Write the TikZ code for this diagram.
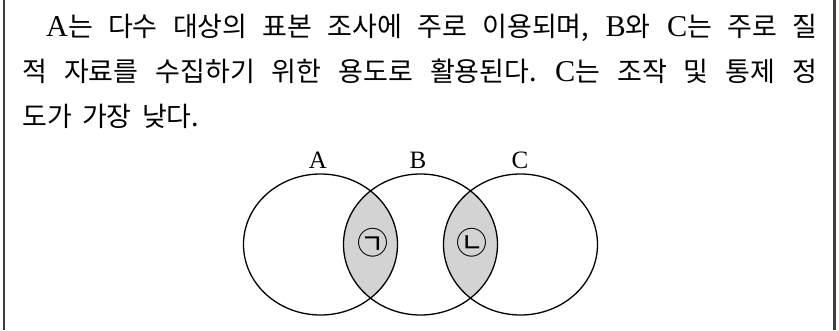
\documentclass[tikz,border=0pt]{standalone}
\usepackage{fontspec}
\setmainfont{Liberation Serif}
\newfontfamily\kr{Noto Sans CJK KR}
\newfontfamily\lat{Liberation Serif}[Scale=1.12]
\newcommand\ksp{\spaceskip=0.38em plus 30pt\relax}
\newcommand\kt[1]{{\kr\ksp #1}}
\definecolor{lensgray}{RGB}{211,211,211}
\definecolor{framegray}{RGB}{60,60,60}
\begin{document}
\frenchspacing
\begin{tikzpicture}[x=1pt,y=-1pt,
  txt/.style={anchor=base west,inner sep=0pt,font=\lat\fontsize{27}{27}\selectfont},
  setlabel/.style={anchor=base,inner sep=0pt,font=\fontsize{25}{25}\selectfont},
  jamomark/.style={inner sep=0pt,font=\kr\fontsize{31}{31}\selectfont},
  setline/.style={line width=1.3pt},
  frameline/.style={line width=2.6pt,framegray}]
\useasboundingbox (0,0) rectangle (839,330);
% frame
\coordinate (lt) at (4,0); \coordinate (lb) at (4,330);
\coordinate (rt) at (834.5,0); \coordinate (rb) at (834.5,330);
\draw[frameline] (lt) -- (lb);
\draw[frameline] (rt) -- (rb);
% text
\node[txt] (l1) at (46,36) {\makebox[771pt][s]{\ksp A\kt{는 다수 대상의 표본 조사에 주로 이용되며,} B\kt{와} C\kt{는 주로 질}}};
\node[txt] (l2) at (22,81) {\makebox[795pt][s]{\ksp\kt{적 자료를 수집하기 위한 용도로 활용된다.} C\kt{는 조작 및 통제 정}}};
\node[txt] (l3) at (22,126) {\kt{도가 가장 낮다.}};
% sets
\coordinate (cA) at (320.5,244.5);
\coordinate (cB) at (420.5,244.5);
\coordinate (cC) at (520.5,244.5);
\begin{scope}
  \clip (cA) ellipse [x radius=77, y radius=70.5];
  \fill[lensgray] (cB) ellipse [x radius=77, y radius=70.5];
\end{scope}
\begin{scope}
  \clip (cB) ellipse [x radius=77, y radius=70.5];
  \fill[lensgray] (cC) ellipse [x radius=77, y radius=70.5];
\end{scope}
\draw[setline] (cA) ellipse [x radius=77, y radius=70.5];
\draw[setline] (cB) ellipse [x radius=77, y radius=70.5];
\draw[setline] (cC) ellipse [x radius=77, y radius=70.5];
\node[setlabel] (labA) at (318,168) {A};
\node[setlabel] (labB) at (418,168) {B};
\node[setlabel] (labC) at (520,168) {C};
\node[jamomark] (m1) at (372.5,242.5) {㉠};
\node[jamomark] (m2) at (471.5,242.5) {㉡};
\end{tikzpicture}
\end{document}
